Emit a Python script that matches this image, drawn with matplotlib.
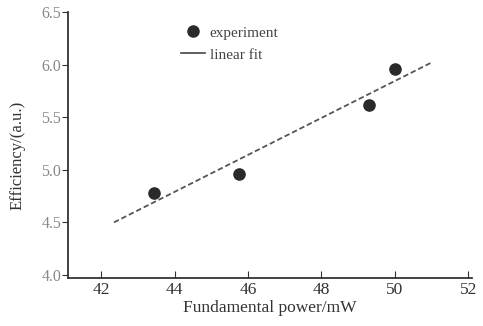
import matplotlib.pyplot as plt
from matplotlib.lines import Line2D

# measured points
power = [43.45, 45.75, 49.3, 50.0]
efficiency = [4.78, 4.96, 5.62, 5.96]

# linear fit endpoints
fit_x = [42.35, 51.0]
fit_y = [4.50, 6.02]

xticks = [42, 44, 46, 48, 50, 52]
yticks = [4.0, 4.5, 5.0, 5.5, 6.0, 6.5]

plt.rcParams['font.family'] = ['Liberation Serif', 'DejaVu Serif']
ink = '#333333'

fig = plt.figure(figsize=(4.83, 3.26), dpi=100)
ax = fig.add_axes([0.141, 0.147, 0.836, 0.816])

ax.plot(fit_x, fit_y, color='#555555', lw=1.3, ls=(0, (3, 1.6)))
ax.scatter(power, efficiency, s=65, color='#2a2a2a', zorder=3)

ax.set_xlim(41.1, 52.1)
ax.set_ylim(3.97, 6.5)
ax.set_xticks(xticks)
ax.set_xticklabels([str(t) for t in xticks])
ax.set_yticks(yticks)
ax.set_yticklabels(['%.1f' % t for t in yticks])

for s in ['top', 'right']:
    ax.spines[s].set_visible(False)
for s in ['left', 'bottom']:
    ax.spines[s].set_color(ink)
    ax.spines[s].set_linewidth(1.3)

ax.tick_params(axis='x', direction='in', length=5, color=ink, labelcolor=ink,
               labelsize=12.5, pad=3)
ax.tick_params(axis='y', direction='out', length=4, color=ink, labelcolor='#888888',
               labelsize=11.5, pad=1)

ax.set_xlabel('Fundamental power/mW', fontsize=12.5, color=ink, labelpad=1)
ax.set_ylabel('Efficiency/(a.u.)', fontsize=12, color=ink, labelpad=2)
ax.yaxis.set_label_coords(-0.105, 0.46)

handles = [Line2D([], [], marker='o', ls='none', color='#2a2a2a', markersize=8),
           Line2D([], [], color='#444444', lw=1.2)]
ax.legend(handles, ['experiment', 'linear fit'], loc='upper left',
          bbox_to_anchor=(0.245, 1.0), frameon=False, fontsize=11,
          handlelength=1.6, handletextpad=0.3, labelspacing=0.55,
          labelcolor='#444444')

fig.savefig('out.png', dpi=100)
